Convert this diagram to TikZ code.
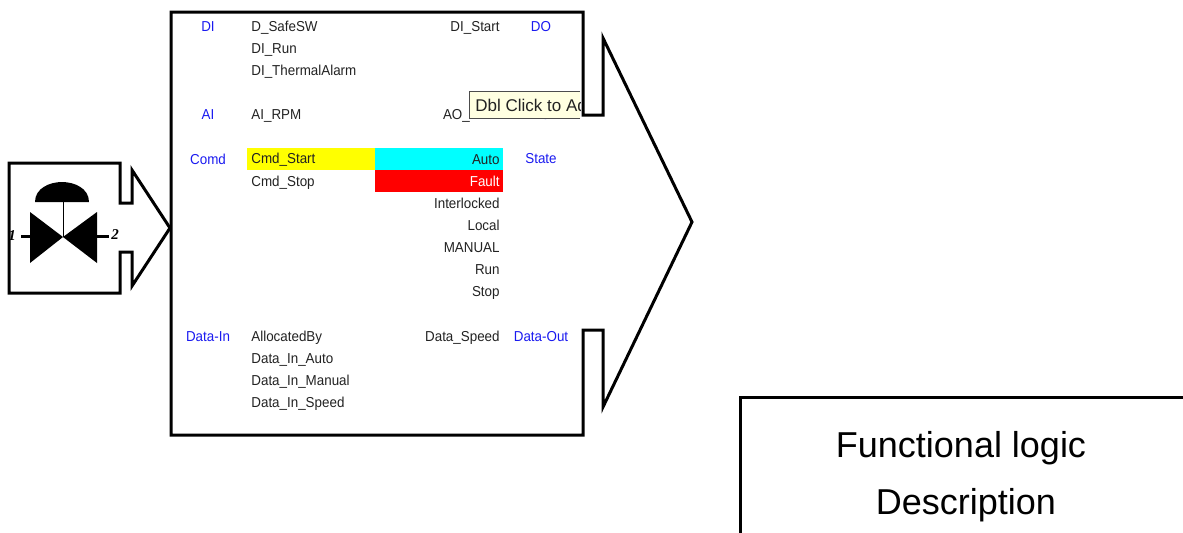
\documentclass[tikz,border=0pt]{standalone}
\usepackage{fontspec}
\setmainfont{Liberation Sans}
\newfontfamily\tagfont[FakeStretch=0.93]{Liberation Sans}
\newfontfamily\portfont{Liberation Serif}
\usepackage{tikz}
\definecolor{tagblue}{HTML}{1A1AF0}
\definecolor{tagtext}{HTML}{222222}
\definecolor{tipfill}{HTML}{FFFFE1}
\definecolor{rowyellow}{HTML}{FFFF00}
\definecolor{rowcyan}{HTML}{00FFFF}
\definecolor{rowred}{HTML}{FF0000}

\begin{document}
\begin{tikzpicture}[
  x=0.5pt, y=-0.5pt,
  outline/.style={draw=black, line width=1.5pt, miter limit=10},
  tag/.style={inner sep=0pt, text=tagtext, font=\tagfont\fontsize{7.2}{8}\selectfont},
  leftname/.style={tag, anchor=west},
  rightname/.style={tag, anchor=east},
  group/.style={inner sep=0pt, text=tagblue, font=\tagfont\fontsize{7.2}{8}\selectfont},
  port/.style={inner sep=0pt, font=\portfont\fontsize{7.5}{8}\selectfont\itshape\bfseries},
  title/.style={inner sep=0pt, font=\fontsize{18}{20}\selectfont},
]
\useasboundingbox (0, 0) rectangle (1183, 532);

% highlighted rows
\fill[rowyellow] (247, 148) rectangle (375, 170);
\fill[rowcyan] (375, 148) rectangle (503, 170);
\fill[rowred] (375, 170) rectangle (503, 192);

% outlines
\draw[outline] (9, 163) -- (120, 163) -- (120, 203) -- (132, 203) -- (132, 170)
  -- (170, 228) -- (132, 286) -- (132, 252) -- (120, 252) -- (120, 293)
  -- (9, 293) -- cycle;
\draw[outline] (171, 12) -- (583, 12) -- (583, 115) -- (603, 115) -- (603, 38)
  -- (692, 222) -- (603, 407) -- (603, 330) -- (583, 330) -- (583, 435)
  -- (171, 435) -- cycle;

% valve
\fill (35, 202) .. controls (35, 188) and (50, 182) .. (62, 182)
  .. controls (74, 182) and (89, 188) .. (89, 202) -- cycle;
\draw[line width=0.4pt] (63, 202) -- (63, 237);
\fill (30, 212) -- (63, 237) -- (30, 263) -- cycle;
\fill (97, 212) -- (63, 237) -- (97, 263) -- cycle;
\draw[line width=1.5pt] (21, 236) -- (30, 236);
\draw[line width=1.5pt] (97, 236) -- (109, 236);
\node[port] (port1) at (12, 236) {1};
\node[port] (port2) at (115, 235) {2};

% group names
\node[group] (gdi) at (208, 27) {DI};
\node[group] (gai) at (208, 115) {AI};
\node[group] (gcomd) at (208, 159) {Comd};
\node[group] (gdatain) at (208, 337) {Data-In};
\node[group] (gdo) at (541, 27) {DO};
\node[group] (gao) at (541, 115) {AO};
\node[group] (gstate) at (541, 159) {State};
\node[group] (gdataout) at (541, 337) {Data-Out};

% inputs
\node[leftname] (safesw) at (251, 28) {D\_SafeSW};
\node[leftname] (dirun) at (251, 50) {DI\_Run};
\node[leftname] (thermal) at (251, 72) {DI\_ThermalAlarm};
\node[leftname] (airpm) at (251, 116) {AI\_RPM};
\node[leftname] (cmdstart) at (251, 160) {Cmd\_Start};
\node[leftname] (cmdstop) at (251, 183) {Cmd\_Stop};
\node[leftname] (allocated) at (251, 338) {AllocatedBy};
\node[leftname] (inauto) at (251, 360) {Data\_In\_Auto};
\node[leftname] (inmanual) at (251, 382) {Data\_In\_Manual};
\node[leftname] (inspeed) at (251, 404) {Data\_In\_Speed};

% outputs
\node[rightname] (distart) at (500, 28) {DI\_Start};
\node[rightname] (aorpm) at (500, 116) {AO\_RPM};
\node[rightname] (auto) at (500, 160) {Auto};
\node[rightname, text=white] (fault) at (500, 181) {Fault};
\node[rightname] (interlocked) at (500, 203) {Interlocked};
\node[rightname] (local) at (500, 225) {Local};
\node[rightname] (manual) at (500, 248) {MANUAL};
\node[rightname] (run) at (500, 270) {Run};
\node[rightname] (stop) at (500, 293) {Stop};
\node[rightname] (dataspeed) at (500, 338) {Data\_Speed};

% tooltip
\fill[tipfill] (469, 91) rectangle (580, 118);
\draw[line width=0.4pt, black!70] (580, 91) -- (469, 91) -- (469, 118) -- (580, 118);
\begin{scope}
  \clip (469, 91) rectangle (580, 118);
  \node[tag, anchor=west, font=\fontsize{8.5}{10}\selectfont] (tooltip) at (475, 105) {Dbl Click to Add};
\end{scope}

% description box
\draw[outline] (740, 397) rectangle (1186, 534);
\node[title] (desc1) at (961, 448) {Functional logic};
\node[title] (desc2) at (966, 505) {Description};
\end{tikzpicture}
\end{document}
